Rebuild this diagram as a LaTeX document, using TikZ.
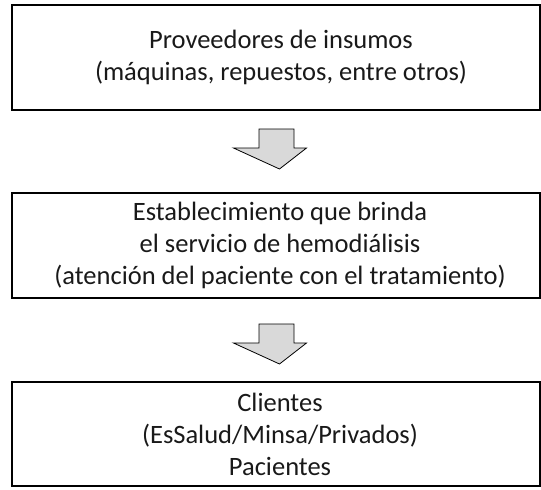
\documentclass[tikz,border=0pt]{standalone}
\usepackage{fontspec}
\setmainfont{Carlito}
\begin{document}
\begin{tikzpicture}[x=1pt,y=1pt,
  box/.style={draw=black, line width=1.1pt, minimum width=528pt, minimum height=105pt, inner sep=0pt},
  boxtext/.style={align=center, inner sep=0pt, text=black!90, font=\fontsize{26.5}{32}\selectfont},
  blockarrow/.style={draw=black, line width=0.8pt, fill=gray!30}]
\useasboundingbox (0,0) rectangle (541,-490);
\node[box] (b1) at (276,-57.5) {};
\node[box] (b2) at (276,-245.5) {};
\node[box, minimum height=104pt] (b3) at (276,-434) {};
\node[boxtext] (t1) at ([xshift=5pt]b1.center) {Proveedores de insumos\\(máquinas, repuestos, entre otros)};
\node[boxtext] (t2) at ([xshift=4pt]b2.center) {Establecimiento que brinda\\el servicio de hemodiálisis\\(atención del paciente con el tratamiento)};
\node[boxtext] (t3) at ([xshift=4pt]b3.center) {Clientes\\(EsSalud/Minsa/Privados)\\Pacientes};
\coordinate (a1) at (276.5,-129);
\coordinate (a2) at (276.5,-324);
\foreach \a in {a1,a2}{
  \draw[blockarrow] ([xshift=-17.5pt]\a) -- ([xshift=17.5pt]\a) -- ([xshift=17.5pt,yshift=-19pt]\a) -- ([xshift=30pt,yshift=-19pt]\a) -- ([xshift=3pt,yshift=-40pt]\a) -- ([xshift=-43pt,yshift=-19pt]\a) -- ([xshift=-17.5pt,yshift=-19pt]\a) -- cycle;
}
\end{tikzpicture}
\end{document}
